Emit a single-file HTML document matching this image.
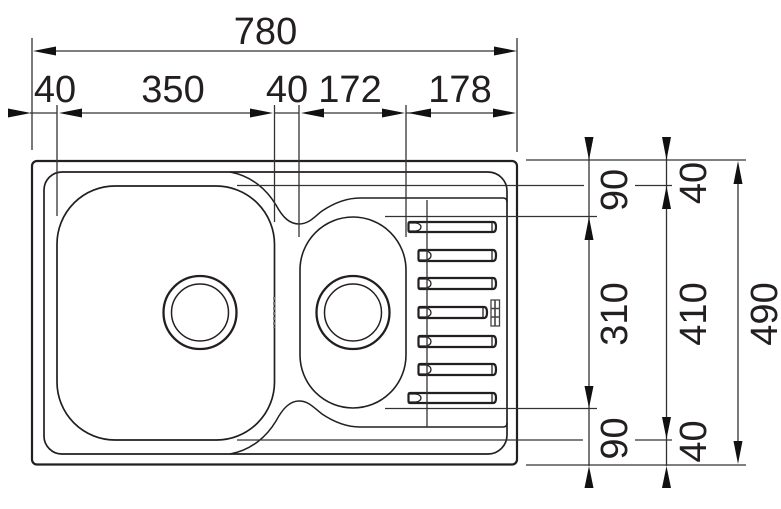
<!DOCTYPE html>
<html><head><meta charset="utf-8">
<style>html,body{margin:0;padding:0;background:#fff}svg{display:block}text{font-family:"Liberation Sans",sans-serif;font-size:38px;fill:#231f20;text-anchor:middle}</style>
</head><body>
<svg width="781" height="509" viewBox="0 0 781 509" xmlns="http://www.w3.org/2000/svg">
<!-- sink -->
<g fill="none" stroke="#231f20">
<rect x="32" y="161" width="485" height="303.500" rx="5" stroke-width="2.200"/>
<path stroke-width="1.700" d="M230 172H488A19 19 0 0 1 507 191V435A19 19 0 0 1 488 454H62A18 18 0 0 1 44 436V190A18 18 0 0 1 62 172H230"/>
<path stroke-width="1.700" d="M57 244A58 58 0 0 1 115 186H216A58.500 58.500 0 0 1 274.500 244.500V382A58 58 0 0 1 216.500 440H115A58 58 0 0 1 57 382Z"/>
<path stroke-width="1.500" d="M230 172C252 176 267 190 276 205C283 218 290 224 299 224C309 224 314 217 322 211C334 203 346 198 360 198H503Q507 198 507 202"/>
<path stroke-width="1.500" d="M230 454C252 450 267 436 276 421C283 408 290 401 299 401C309 401 314 408 322 414C334 422 346 427 360 427H503Q507 427 507 423"/>
<path stroke-width="1.600" d="M300 270A53 53 0 0 1 406 270V355A53 53 0 0 1 300 355Z"/>
<circle cx="200" cy="312.500" r="36.500" stroke-width="2.300"/><circle cx="200" cy="312.500" r="28.500" stroke-width="1.500"/>
<circle cx="353" cy="312.500" r="36.500" stroke-width="2.300"/><circle cx="353" cy="312.500" r="28.500" stroke-width="1.500"/>
<path d="M274 297V328" stroke-width="2" stroke-dasharray="3 2" stroke="#777"/>
</g>
<!-- slots -->
<g fill="none" stroke="#231f20" stroke-width="2.200">
<path d="M410 222H493Q496 222 496 227Q496 232 493 232H410Q408.500 232 408.500 230V224Q408.500 222 410 222Z"/>
<path d="M420 250H493Q496 250 496 255.500Q496 261 493 261H420Q418.500 261 418.500 259V252Q418.500 250 420 250Z"/>
<path d="M420 278H493Q496 278 496 283.500Q496 289 493 289H420Q418.500 289 418.500 287V280Q418.500 278 420 278Z"/>
<path d="M420 307H484Q487 307 487 312.500Q487 318 484 318H420Q418.500 318 418.500 316V309Q418.500 307 420 307Z"/>
<path d="M420 336H493Q496 336 496 341.500Q496 347 493 347H420Q418.500 347 418.500 345V338Q418.500 336 420 336Z"/>
<path d="M420 364H493Q496 364 496 369.500Q496 375 493 375H420Q418.500 375 418.500 373V366Q418.500 364 420 364Z"/>
<path d="M410 393H493Q496 393 496 398Q496 403 493 403H410Q408.500 403 408.500 401V395Q408.500 393 410 393Z"/>
</g>
<g fill="none" stroke="#231f20" stroke-width="1.300">
<path d="M409 223H416Q421 224 421 227Q421 230 416 231H409"/>
<path d="M419 251H426Q431 252 431 255.500Q431 259 426 260H419"/>
<path d="M419 279H426Q431 280 431 283.500Q431 287 426 288H419"/>
<path d="M419 308H426Q431 309 431 312.500Q431 316 426 317H419"/>
<path d="M419 337H426Q431 338 431 341.500Q431 345 426 346H419"/>
<path d="M419 365H426Q431 366 431 369.500Q431 373 426 374H419"/>
<path d="M409 394H416Q421 395 421 398Q421 401 416 402H409"/>
<path d="M492 222.500V231.500M492 250.500V260.500M492 278.500V288.500M483 307.500V317.500M492 336.500V346.500M492 364.500V374.500M492 393.500V402.500"/>
<rect x="491" y="300" width="8.500" height="26" stroke="#444"/>
<path d="M491 308.500H499.500M491 317H499.500M495 300V326" stroke="#444" stroke-width="1.600"/>
</g>
<!-- dimension lines -->
<g fill="none" stroke="#333" stroke-width="1.300">
<path d="M32 38V150M517 38V152M57 105V216M274.500 105V222M299 105V237M406 105V237"/>
<path d="M427 200V427"/>
<path d="M50 51H500M30 113H57M75 113H255M274 113H299M317 113H390M406 113H426M430 113H500"/>
<path d="M237 185.500H584M635 185.500H672M385 216.500H597M385 408.500H597M237 440H583M635 440H672M526 160H746M526 465H746"/>
<path d="M589 155V466M666.500 155V425M666.500 425V466M738 170V450"/>
</g>
<!-- arrowheads -->
<g fill="#111">
<path d="M33 51L56 46.500V55.500Z"/><path d="M517 51L494 46.500V55.500Z"/>
<path d="M31 113L8 108.500V117.500Z"/><path d="M59 113L82 108.500V117.500Z"/>
<path d="M273 113L250 108.500V117.500Z"/><path d="M301 113L324 108.500V117.500Z"/>
<path d="M405 113L382 108.500V117.500Z"/><path d="M408 113L431 108.500V117.500Z"/>
<path d="M516 113L493 108.500V117.500Z"/>
<path d="M589 160L584.500 137H593.500Z"/><path d="M589 217L584.500 240H593.500Z"/>
<path d="M589 408L584.500 386H593.500Z"/><path d="M589 466L584.500 488H593.500Z"/>
<path d="M666.500 160L662 137H671Z"/><path d="M666.500 186L662 209H671Z"/>
<path d="M666.500 439L662 417H671Z"/><path d="M666.500 466L662 488H671Z"/>
<path d="M738 161L733.500 184H742.500Z"/><path d="M738 464L733.500 441H742.500Z"/>
</g>
<!-- labels -->
<text x="265.500" y="44">780</text>
<text x="55" y="102">40</text>
<text x="173" y="102">350</text>
<text x="287" y="102">40</text>
<text x="350" y="102">172</text>
<text x="460" y="102">178</text>
<text transform="translate(627 190) rotate(-90)">90</text>
<text transform="translate(627 314) rotate(-90)">310</text>
<text transform="translate(627 438.500) rotate(-90)">90</text>
<text transform="translate(706 183) rotate(-90)">40</text>
<text transform="translate(706 314) rotate(-90)">410</text>
<text transform="translate(706 441.500) rotate(-90)">40</text>
<text transform="translate(777 314) rotate(-90)">490</text>
</svg>
</body></html>
